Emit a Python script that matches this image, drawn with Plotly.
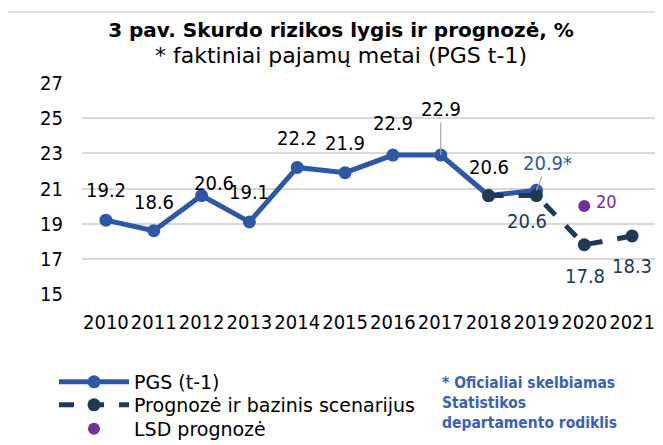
import plotly.graph_objects as go

# ---- data ----
years = ["2010", "2011", "2012", "2013", "2014", "2015", "2016", "2017", "2018", "2019", "2020", "2021"]
pgs_years = ["2010", "2011", "2012", "2013", "2014", "2015", "2016", "2017", "2018", "2019"]
pgs_values = [19.2, 18.6, 20.6, 19.1, 22.2, 21.9, 22.9, 22.9, 20.6, 20.9]
pgs_labels = ["19.2", "18.6", "20.6", "19.1", "22.2", "21.9", "22.9", "22.9", "20.6", "20.9*"]
forecast_years = ["2018", "2019", "2020", "2021"]
forecast_values = [20.6, 20.6, 17.8, 18.3]
forecast_labels = ["", "20.6", "17.8", "18.3"]
lsd_years = ["2020"]
lsd_values = [20]
lsd_labels = ["20"]
y_ticks = [15, 17, 19, 21, 23, 25, 27]

# ---- styles ----
NUMF = "DejaVu Sans Condensed"
TXTF = "DejaVu Sans"
BLUE = "#2E58A5"
NAVY = "#203A55"
PURPLE = "#7030A0"
GRID = "#D9D9D9"

OFF = 8  # default body margin of the page
W, H = 663 - OFF, 445 - OFF
PL, PR, PT, PB = 82, 656, 83, 294  # plot area in window pixels
ML, MR, MT, MB = PL - OFF, W - (PR - OFF), PT - OFF, H - (PB - OFF)
PW, PH = PR - PL, PB - PT


def px_x(p):
    return (p - PL) / PW


def px_y(p):
    return (PB - p) / PH


def cx(p):
    return (p - OFF) / W


fig = go.Figure()
fig.add_trace(go.Scatter(
    x=pgs_years, y=pgs_values, name="PGS (t-1)", mode="lines+markers",
    line=dict(color=BLUE, width=5), marker=dict(size=13, color=BLUE),
    legend="legend", showlegend=True,
))
fig.add_trace(go.Scatter(
    x=forecast_years, y=forecast_values, name="Prognozė ir bazinis scenarijus",
    mode="lines+markers", line=dict(color=NAVY, width=5, dash="dash"),
    marker=dict(size=13, color=NAVY), legend="legend2", showlegend=True,
))
fig.add_trace(go.Scatter(
    x=lsd_years, y=lsd_values, name="LSD prognozė", mode="markers",
    marker=dict(size=12, color=PURPLE, symbol="circle"), legend="legend3", showlegend=True,
))

annotations = []
pgs_offsets = [(0, 30), (0, 29), (12, 13), (0, 30), (0, 29), (0, 30), (0, 32), None, (0, 29), None]
pgs_arrows = {7: (0, -46), 9: (11, -27)}
for i, (xv, yv, lab) in enumerate(zip(pgs_years, pgs_values, pgs_labels)):
    color = BLUE if lab.endswith("*") else "black"
    xi = years.index(xv)
    if i in pgs_arrows:
        ax, ay = pgs_arrows[i]
        annotations.append(dict(
            x=xi, y=yv, xref="x", yref="y", text=lab, showarrow=True,
            ax=ax, ay=ay, arrowhead=0, arrowwidth=1.2, arrowcolor="#A6A6A6",
            font=dict(family=NUMF, size=20, color=color),
        ))
    else:
        xs, ys = pgs_offsets[i]
        annotations.append(dict(
            x=xi, y=yv, xref="x", yref="y", text=lab, showarrow=False,
            xshift=xs, yshift=ys, font=dict(family=NUMF, size=20, color=color),
        ))

forecast_offsets = [(0, 0), (-9, -25), (1, -31), (0, -30)]
for (xv, yv, lab), (xs, ys) in zip(zip(forecast_years, forecast_values, forecast_labels), forecast_offsets):
    if not lab:
        continue
    annotations.append(dict(
        x=years.index(xv), y=yv, xref="x", yref="y", text=lab, showarrow=False,
        xshift=xs, yshift=ys, font=dict(family=NUMF, size=20, color=NAVY),
    ))

for xv, yv, lab in zip(lsd_years, lsd_values, lsd_labels):
    annotations.append(dict(
        x=years.index(xv), y=yv, xref="x", yref="y", text=lab, showarrow=False,
        xshift=22, yshift=5, font=dict(family=NUMF, size=18, color=PURPLE),
    ))

annotations.append(dict(
    x=px_x(440), y=px_y(372), xref="paper", yref="paper", xanchor="left", yanchor="top",
    text="<b>* Oficialiai skelbiamas<br>Statistikos<br>departamento rodiklis</b>",
    align="left", showarrow=False, font=dict(family=NUMF, size=15.5, color="#3A62B0"),
))

legend_common = dict(
    xref="paper", yref="paper", xanchor="left", yanchor="middle",
    font=dict(family=TXTF, size=19, color="black"), itemwidth=70,
    bgcolor="rgba(0,0,0,0)", visible=True,
)

fig.update_layout(
    width=W, height=H,
    showlegend=True,
    margin=dict(l=ML, r=MR, t=MT, b=MB, autoexpand=False),
    paper_bgcolor="white", plot_bgcolor="white",
    font=dict(family=NUMF, size=20, color="black"),
    title=dict(
        text="<b>3 pav. Skurdo rizikos lygis ir prognozė, %</b><br>"
             "<span style='font-size:22px'>* faktiniai pajamų metai (PGS t-1)</span>",
        x=cx(341), xanchor="center", y=1 - 29 / H, yanchor="top", yref="container",
        font=dict(family=TXTF, size=20, color="black"),
    ),
    xaxis=dict(
        type="category", categoryorder="array", categoryarray=years,
        range=[-0.5, len(years) - 0.5], showgrid=False, showline=False, zeroline=False,
        ticks="", tickfont=dict(size=20), ticklabelstandoff=14, tickangle=0,
    ),
    yaxis=dict(
        range=[15, 27], tickvals=y_ticks, showgrid=True, gridcolor=GRID, gridwidth=1.5,
        zeroline=False, showline=False, ticks="", tickfont=dict(size=20), ticklabelstandoff=18,
    ),
    legend=dict(x=px_x(54), y=px_y(382), **legend_common),
    legend2=dict(x=px_x(54), y=px_y(405), **legend_common),
    legend3=dict(x=px_x(54), y=px_y(429), **legend_common),
    annotations=annotations,
    shapes=[dict(
        type="rect", xref="paper", yref="paper",
        x0=px_x(6), x1=px_x(700), y0=px_y(480), y1=px_y(12),
        line=dict(color=GRID, width=1.5), fillcolor="rgba(0,0,0,0)", layer="below",
    )],
)

fig.write_html("out.html")
